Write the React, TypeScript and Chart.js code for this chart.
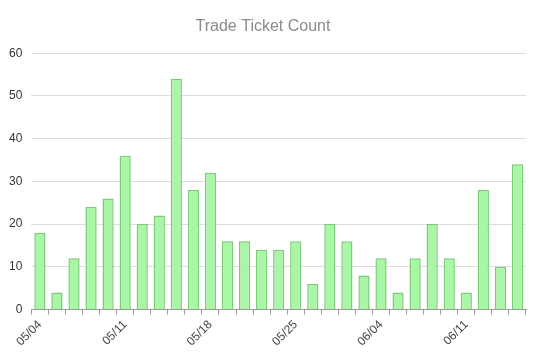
import React, { useEffect, useRef } from "react";
import { Chart, registerables } from "chart.js";

Chart.register(...registerables);

const categories: string[] = [
  "05/04", "05/05", "05/06", "05/07", "05/08",
  "05/11", "05/12", "05/13", "05/14", "05/15",
  "05/18", "05/19", "05/20", "05/21", "05/22",
  "05/25", "05/26", "05/27", "05/28", "05/29",
  "06/04", "06/05", "06/08", "06/09", "06/10",
  "06/11", "06/12", "06/15", "06/16",
];

const ticketCounts: number[] = [
  18, 4, 12, 24, 26, 36, 20, 22, 54, 28,
  32, 16, 16, 14, 14, 16, 6, 20, 16, 8,
  12, 4, 12, 20, 12, 4, 28, 10, 34,
];

const yTicks: number[] = [0, 10, 20, 30, 40, 50, 60];

const FONT = "'Liberation Sans', Arial, sans-serif";

export default function App() {
  const ref = useRef<HTMLCanvasElement | null>(null);

  useEffect(() => {
    document.body.style.margin = "0";
    if (!ref.current) return;
    const chart = new Chart(ref.current, {
      type: "bar",
      data: {
        labels: categories,
        datasets: [
          {
            label: "Trade Ticket Count",
            data: ticketCounts,
            backgroundColor: "#a9f7a6",
            borderColor: "#7ccb78",
            borderWidth: 1.5,
            barPercentage: 0.8,
            categoryPercentage: 0.82,
          },
        ],
      },
      options: {
        responsive: false,
        animation: false,
        layout: { padding: { left: 0, right: 8, bottom: 10, top: 0 } },
        plugins: {
          legend: { display: false },
          tooltip: { enabled: false },
          title: {
            display: true,
            text: "Trade Ticket Count",
            color: "#8a8a8a",
            font: { family: FONT, size: 16, weight: "normal" },
            padding: { top: 17, bottom: 17 },
          },
        },
        scales: {
          x: {
            offset: true,
            grid: {
              offset: true,
              drawOnChartArea: false,
              drawTicks: true,
              tickLength: 5,
              color: "#9a9a9a",
            },
            border: { display: true, color: "#9a9a9a" },
            ticks: {
              autoSkip: false,
              maxRotation: 45,
              minRotation: 45,
              color: "#444",
              font: { family: FONT, size: 12 },
              callback: (_v: any, i: number) => (i % 5 === 0 ? categories[i] : ""),
            },
          },
          y: {
            min: yTicks[0],
            max: yTicks[yTicks.length - 1],
            afterBuildTicks: (axis: any) => {
              axis.ticks = yTicks.map((v) => ({ value: v }));
            },
            grid: { color: "#dddddd", drawTicks: false },
            border: { display: false },
            ticks: {
              padding: 9,
              color: "#333",
              font: { family: FONT, size: 12 },
            },
          },
        },
      },
    });
    return () => chart.destroy();
  }, []);

  return (
    <div style={{ width: 534, height: 362 }}>
      <canvas ref={ref} width={534} height={362} />
    </div>
  );
}
